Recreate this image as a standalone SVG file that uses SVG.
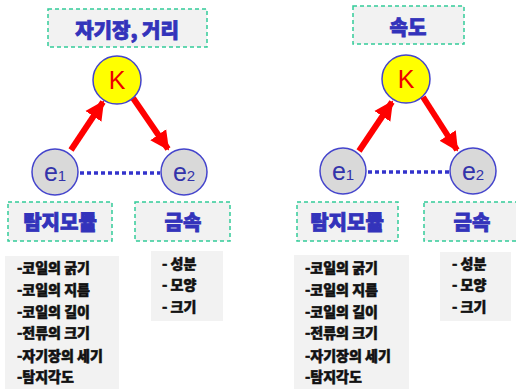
<svg xmlns="http://www.w3.org/2000/svg" width="516" height="389" viewBox="0 0 516 389">
<style>
.tbox{fill:#f2f2f2;stroke:#33cc99;stroke-width:1.5;stroke-dasharray:4 3}
.ttl{font-family:"Noto Sans CJK KR","Noto Sans",sans-serif;font-weight:900;font-size:20px;fill:#3333bb;stroke:#3333bb;stroke-width:0.8;text-anchor:middle}
.list{fill:#f2f2f2}
.li{font-family:"Noto Sans CJK KR","Noto Sans",sans-serif;font-weight:900;font-size:14px;fill:#111;stroke:#111;stroke-width:0.5}
.k{fill:#ffff00;stroke:#4444cc;stroke-width:1.5}
.e{fill:#d9d9d9;stroke:#4444cc;stroke-width:1.5}
.kt{font-family:"Liberation Sans",Arial,sans-serif;font-size:25px;fill:#ee0000;text-anchor:middle}
.et{font-family:"Liberation Sans",Arial,sans-serif;font-size:25px;fill:#3333aa;text-anchor:middle}
.arr{stroke:#ff0000;stroke-width:6;fill:none;marker-end:url(#ah)}
.dot{stroke:#3333cc;stroke-width:3.5;stroke-dasharray:4 3;fill:none}
</style>
<defs>
<marker id="ah" viewBox="0 0 10 10" refX="9" refY="5" markerWidth="3.2" markerHeight="3.6" orient="auto" markerUnits="strokeWidth">
<path d="M0,0 L10,5 L0,10 z" fill="#ff0000"/>
</marker>
</defs>
<g id="connectors">
<line class="arr" x1="71" y1="150" x2="103" y2="102"/>
<line class="arr" x1="133" y1="98" x2="168" y2="149"/>
<line class="dot" x1="80" y1="173" x2="160" y2="173"/>
<line class="arr" x1="359" y1="151" x2="392" y2="102"/>
<line class="arr" x1="423" y1="97" x2="457" y2="150"/>
<line class="dot" x1="368" y1="172" x2="449" y2="172"/>
</g>
<g id="title-left"><rect class="tbox" x="48" y="9" width="159" height="38"/><text class="ttl" x="127" y="38">자기장, 거리</text></g>
<g id="K-left"><circle class="k" cx="117" cy="80" r="24"/><text class="kt" x="117" y="89">K</text></g>
<g id="e1-left"><circle class="e" cx="55" cy="172" r="23"/><text class="et" x="55" y="181">e<tspan font-size="15">1</tspan></text></g>
<g id="e2-left"><circle class="e" cx="184" cy="172" r="23"/><text class="et" x="184" y="181">e<tspan font-size="15">2</tspan></text></g>
<g id="module-left"><rect class="tbox" x="8" y="202" width="104" height="39"/><text class="ttl" x="60" y="230">탐지모듈</text></g>
<g id="metal-left"><rect class="tbox" x="135" y="202" width="95" height="39"/><text class="ttl" x="183" y="230">금속</text></g>
<g id="list-module-left"><rect class="list" x="5" y="256" width="114" height="133"/>
<text class="li" x="17" y="273">-코일의 굵기</text>
<text class="li" x="17" y="295">-코일의 지름</text>
<text class="li" x="17" y="317">-코일의 길이</text>
<text class="li" x="17" y="338">-전류의 크기</text>
<text class="li" x="17" y="361">-자기장의 세기</text>
<text class="li" x="17" y="382">-탐지각도</text>
</g>
<g id="list-metal-left"><rect class="list" x="151" y="251" width="72" height="70"/>
<text class="li" x="162" y="269">- 성분</text>
<text class="li" x="162" y="290">- 모양</text>
<text class="li" x="162" y="312">- 크기</text>
</g>
<g id="title-right"><rect class="tbox" x="353" y="6" width="111" height="38"/><text class="ttl" x="408" y="35">속도</text></g>
<g id="K-right"><circle class="k" cx="406" cy="79" r="24"/><text class="kt" x="406" y="88">K</text></g>
<g id="e1-right"><circle class="e" cx="343" cy="171" r="23"/><text class="et" x="343" y="180">e<tspan font-size="15">1</tspan></text></g>
<g id="e2-right"><circle class="e" cx="473" cy="171" r="23"/><text class="et" x="473" y="180">e<tspan font-size="15">2</tspan></text></g>
<g id="module-right"><rect class="tbox" x="297" y="202" width="101" height="39"/><text class="ttl" x="347" y="230">탐지모듈</text></g>
<g id="metal-right"><rect class="tbox" x="424" y="202" width="100" height="39"/><text class="ttl" x="472" y="230">금속</text></g>
<g id="list-module-right"><rect class="list" x="294" y="255" width="115" height="134"/>
<text class="li" x="305" y="273">-코일의 굵기</text>
<text class="li" x="305" y="295">-코일의 지름</text>
<text class="li" x="305" y="317">-코일의 길이</text>
<text class="li" x="305" y="338">-전류의 크기</text>
<text class="li" x="305" y="361">-자기장의 세기</text>
<text class="li" x="305" y="382">-탐지각도</text>
</g>
<g id="list-metal-right"><rect class="list" x="440" y="252" width="71" height="69"/>
<text class="li" x="452" y="269">- 성분</text>
<text class="li" x="452" y="290">- 모양</text>
<text class="li" x="452" y="312">- 크기</text>
</g>
</svg>
